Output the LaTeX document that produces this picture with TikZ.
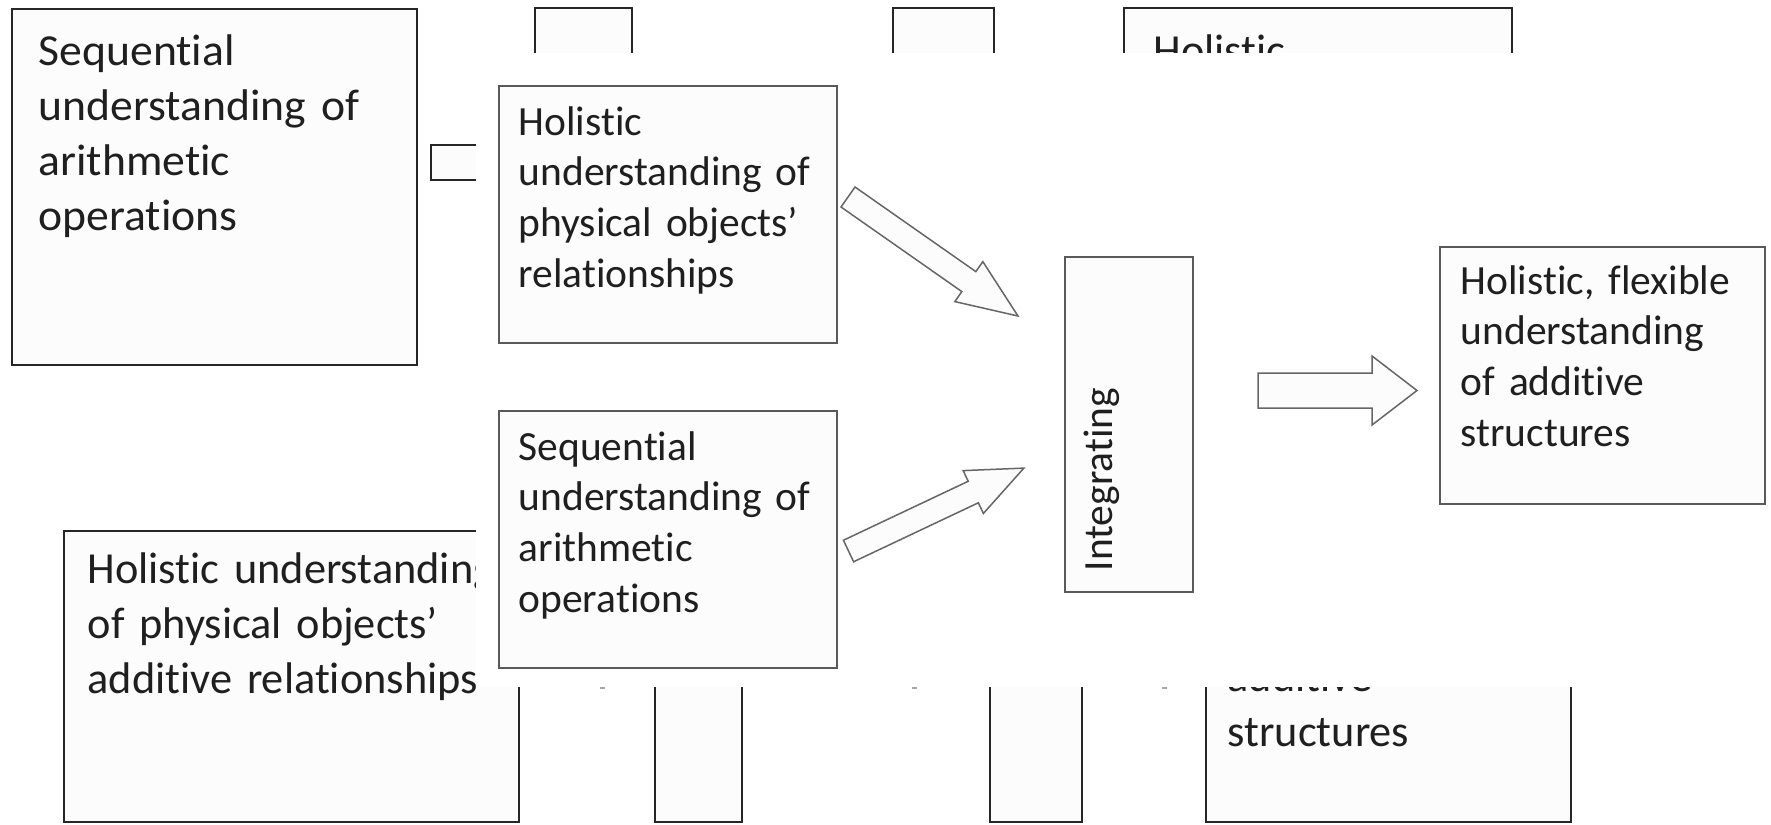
\documentclass[tikz,border=0pt]{standalone}
\usepackage{fontspec}
\setmainfont[Ligatures=NoCommon]{Carlito}
\newfontfamily\fgfam[Ligatures=NoCommon, WordSpace=0.7]{Carlito}
\newfontfamily\bgfam[Ligatures=NoCommon]{Carlito}
\newfontfamily\bgwidefam[Ligatures=NoCommon, FakeStretch=1.03]{Carlito}
\usetikzlibrary{fit}
\newcommand\fgfont{\fgfam\fontsize{12.45}{15.2}\selectfont}
\newcommand\bgfont{\bgfam\fontsize{13.3}{16.5}\selectfont}
\newcommand\bgwidefont{\bgwidefam\fontsize{13.3}{16.5}\selectfont}
\tikzset{
 fgbox/.style={draw=black!65, line width=0.6pt, fill=black!1, inner sep=0pt},
 bgbox/.style={draw=black!85, line width=0.7pt, fill=black!1, inner sep=0pt},
 fgtext/.style={anchor=base west, inner sep=0pt, align=left, text width=120pt, font=\fgfont, text=black!88},
 bgtext/.style={anchor=base west, inner sep=0pt, align=left, text width=140pt, font=\bgfont, text=black!88},
 blockarrow/.style={draw=black!60, line width=0.45pt, fill=black!1, line join=miter},
 tick/.style={draw=black!35, line width=0.6pt},
}
\begin{document}
\begin{tikzpicture}[x=0.3pt,y=-0.3pt]
\useasboundingbox[fill=white] (0,0) rectangle (1771,824);
% ---------- background (older) diagram ----------
\node[bgbox, fit={(12,9) (417,365)}] (bgA) {};
\node[bgtext, font=\bgwidefont] (bgAt) at (38,65) {Sequential\\understanding of\\arithmetic\\operations};
\node[bgbox, fit={(431,145) (520,180)}] (bgS) {};
\node[bgbox, fit={(535,8) (632,200)}] (bgT1) {};
\node[bgbox, fit={(893,8) (994,200)}] (bgT2) {};
\node[bgbox, fit={(1124,8) (1512,300)}] (bgT3) {};
\node[bgtext] (bgT3t) at (1153,65) {Holistic};
\node[bgbox, fit={(64,531) (519,822)}] (bgB) {};
\node[bgtext] (bgBt) at (87,583) {Holistic understanding\\of physical objects’\\additive relationships};
\node[bgbox, fit={(655,600) (742,822)}] (bgB1) {};
\node[bgbox, fit={(990,600) (1082,822)}] (bgB2) {};
\node[bgbox, fit={(1206,600) (1571,822)}] (bgB3) {};
\node[bgtext] (bgB3t) at (1227,691) {additive\\structures};
\coordinate (k1) at (600,688); \coordinate (k1e) at (605,688);
\coordinate (k2) at (912,688); \coordinate (k2e) at (917,688);
\coordinate (k3) at (1162,688); \coordinate (k3e) at (1167,688);
\draw[tick] (k1) -- (k1e);
\draw[tick] (k2) -- (k2e);
\draw[tick] (k3) -- (k3e);
% ---------- white cover ----------
\fill[white] (476,53) rectangle (1771,687);
% ---------- foreground diagram ----------
\node[fgbox, fit={(499,86) (837,343)}] (hol) {};
\node[fgtext] (holt) at (518,135) {Holistic\\understanding of\\physical objects’\\relationships};
\node[fgbox, fit={(499,411) (837,668)}] (seq) {};
\node[fgtext] (seqt) at (518,460) {Sequential\\understanding of\\arithmetic\\operations};
\node[fgbox, fit={(1065,257) (1193,592)}] (integ) {};
\node[rotate=90, anchor=base west, inner sep=0pt, font=\fgfont, text=black!88] (integt) at (1112,572) {Integrating};
\node[fgbox, fit={(1440,247) (1765,504)}] (fin) {};
\node[fgtext] (fint) at (1460,294) {Holistic, flexible\\understanding\\of additive\\structures};
% block arrows
\coordinate (a1) at (848,197);
\coordinate (a2) at (848.5,551);
\coordinate (a3) at (1258,390.5);
\begin{scope}[shift={(a1)}, rotate=-35]
\draw[blockarrow] (0,-12.2) -- (147.5,-12.2) -- (147.5,-24.4) -- (207.5,0) -- (147.5,24.4) -- (147.5,12.2) -- (0,12.2) -- cycle;
\end{scope}
\begin{scope}[shift={(a2)}, rotate=25.3]
\draw[blockarrow] (0,-11.9) -- (138,-11.9) -- (138,-23.7) -- (194,0) -- (138,23.7) -- (138,11.9) -- (0,11.9) -- cycle;
\end{scope}
\begin{scope}[shift={(a3)}]
\draw[blockarrow] (0,-17.5) -- (114,-17.5) -- (114,-34.5) -- (159,0) -- (114,34.5) -- (114,17.5) -- (0,17.5) -- cycle;
\end{scope}
\end{tikzpicture}
\end{document}
